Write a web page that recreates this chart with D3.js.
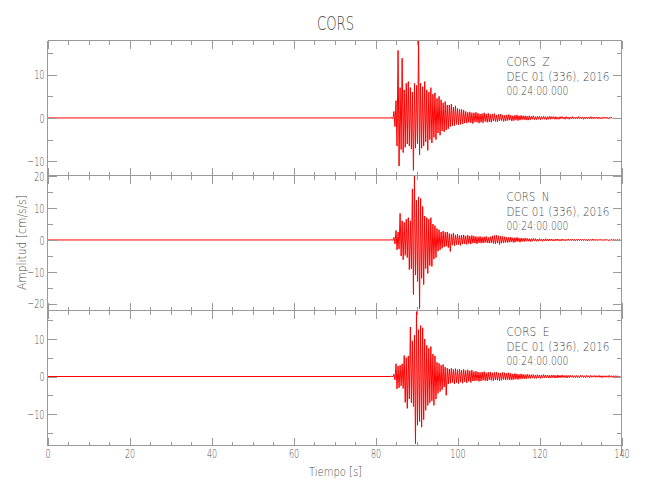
<!DOCTYPE html>
<html><head><meta charset="utf-8">
<script src="https://cdn.jsdelivr.net/npm/d3@7"></script>
<style>
body{margin:0;background:#fff}
svg text{font-family:'DejaVu Sans',sans-serif;fill:#4a4a4a;font-weight:200}
</style></head><body><svg id="c" width="650" height="500"></svg>
<script>
const station = "CORS";
const channels = ["Z", "N", "E"];
const dateLine = "DEC 01 (336), 2016";
const timeLine = "00:24:00.000";
const xTitle = "Tiempo [s]";
const yTitle = "Amplitud [cm/s/s]";
const xTickValues = [0, 20, 40, 60, 80, 100, 120, 140];
const yTickValues = [[-10, 0, 10], [-20, -10, 0, 10, 20], [-10, 0, 10]];
const yRanges = [[-13.3, 17.9], [-22.1, 20.2], [-18.4, 17.6]];
const sampleStart = 84, sampleStep = 0.25;

const ampZ = [
0.1,-0.2,1.5,-2.0, 4.0,-6.5,15.6,-11.1,
7.0,-7.3,13.8,-8.0, 6.5,-6.8,8.0,-6.0,
8.4,-6.5,7.0,-7.2, 6.0,-12.1,8.0,-7.0,
7.5,-6.0,17.9,-8.5, 8.0,-7.0,7.2,-6.5,
8.4,-5.5,6.5,-7.5, 6.0,-5.0,7.0,-5.8,
5.5,-4.5,5.8,-5.0, 4.5,-3.5,5.0,-4.0,
4.2,-3.0,3.5,-3.2, 3.8,-2.8,3.0,-2.5,
3.0,-2.0,3.2,-1.8, 2.5,-1.8,2.8,-1.5,
2.2,-1.6,2.0,-1.5, 2.0,-1.4,1.8,-1.2,
1.5,-1.2,1.3,-1.0, 1.4,-1.1,1.2,-1.3,
1.2,-0.9,1.3,-1.0, 1.1,-1.2,0.9,-1.0,
1.0,-1.1,1.2,-0.8, 0.9,-1.0,1.1,-0.9,
0.8,-1.0,0.9,-0.7, 1.0,-0.8,0.7,-0.9,
0.8,-0.7,0.9,-0.6, 0.7,-0.8,0.6,-0.7,
0.7,-0.6,0.8,-0.5, 0.6,-0.7,0.5,-0.6,
0.6,-0.5,0.7,-0.6, 0.5,-0.5,0.6,-0.4,
0.5,-0.4,0.5,-0.5, 0.4,-0.5,0.5,-0.4,
0.4,-0.3,0.5,-0.4, 0.3,-0.4,0.4,-0.3,
0.4,-0.4,0.3,-0.3, 0.4,-0.3,0.3,-0.4,
0.3,-0.3,0.4,-0.3, 0.3,-0.2,0.3,-0.3,
0.3,-0.3,0.2,-0.3, 0.3,-0.2,0.3,-0.2,
0.2,-0.3,0.3,-0.2, 0.2,-0.3,0.2,-0.2,
0.3,-0.2,0.2,-0.2, 0.2,-0.2,0.3,-0.2,
0.2,-0.2,0.2,-0.3, 0.2,-0.2,0.2,-0.2,
0.2,-0.2,0.3,-0.2, 0.2,-0.2,0.2,-0.1,
0.2,-0.2,0.2,-0.2, 0.1,-0.2,0.2,-0.1,
0.2,-0.1,0.2,-0.2, 0.1,-0.1,0.2,-0.1
];

const ampN = [
0.1,-0.1,0.8,-1.2, 3.0,-3.1,2.5,-2.8,
8.3,-5.0,6.0,-6.2, 5.5,-4.8,6.5,-5.5,
7.0,-9.3,6.0,-9.0, 16.0,-17.1,20.0,-11.0,
12.5,-13.0,13.5,-21.5, 13.0,-12.0,10.5,-14.0,
7.5,-9.0,7.0,-10.5, 6.5,-8.0,7.0,-8.3,
5.0,-6.0,4.5,-5.5, 3.6,-3.5,3.2,-3.1,
2.5,-2.6,2.8,-2.2, 2.4,-2.0,2.5,-2.4,
2.0,-3.6,1.8,-1.6, 2.2,-1.8,1.6,-1.5,
1.8,-1.5,1.4,-1.7, 1.5,-1.3,1.6,-1.2,
1.3,-1.4,1.5,-1.1, 1.2,-1.3,1.4,-1.0,
1.2,-1.0,1.1,-1.2, 1.0,-0.9,1.1,-1.0,
0.9,-1.0,1.0,-0.8, 1.1,-0.9,0.8,-1.0,
1.0,-0.9,1.3,-1.1, 1.4,-1.2,1.5,-1.0,
1.3,-1.4,1.2,-1.0, 1.1,-0.9,1.0,-0.8,
0.9,-0.8,0.8,-0.7, 0.9,-0.6,0.7,-0.8,
0.7,-0.6,0.8,-0.5, 0.6,-0.7,0.6,-0.5,
0.5,-0.5,0.6,-0.4, 0.5,-0.4,0.4,-0.5,
0.4,-0.4,0.5,-0.3, 0.4,-0.4,0.3,-0.4,
0.4,-0.3,0.3,-0.4, 0.3,-0.3,0.4,-0.3,
0.3,-0.3,0.3,-0.2, 0.3,-0.3,0.2,-0.3,
0.3,-0.2,0.3,-0.3, 0.2,-0.3,0.3,-0.2,
0.2,-0.3,0.2,-0.2, 0.3,-0.2,0.2,-0.2,
0.3,-0.2,0.2,-0.3, 0.2,-0.2,0.3,-0.2,
0.2,-0.2,0.3,-0.2, 0.2,-0.2,0.2,-0.3,
0.2,-0.2,0.2,-0.2, 0.3,-0.2,0.2,-0.2,
0.2,-0.2,0.2,-0.1, 0.2,-0.2,0.2,-0.2,
0.2,-0.1,0.2,-0.2, 0.1,-0.2,0.2,-0.1,
0.2,-0.1,0.1,-0.2, 0.2,-0.1,0.1,-0.1,
0.0
];

const ampE = [
0.1,-0.1,0.6,-0.9, 3.4,-3.3,2.8,-3.0,
3.0,-2.5,3.4,-3.2, 5.6,-6.9,5.0,-8.5,
5.5,-6.0,13.2,-7.0, 9.5,-8.0,11.0,-17.9,
17.3,-13.0,12.5,-12.0, 13.6,-13.5,13.0,-11.5,
10.0,-9.0,8.3,-7.7, 7.5,-7.0,8.0,-6.5,
6.0,-7.7,5.5,-6.0, 3.8,-4.5,3.5,-4.0,
3.0,-3.5,3.2,-2.8, 2.5,-5.0,2.2,-2.0,
2.0,-1.8,2.2,-1.6, 1.9,-2.0,2.1,-1.7,
1.8,-1.9,2.0,-1.5, 1.7,-1.8,1.9,-1.4,
1.6,-1.7,1.8,-1.3, 1.5,-1.6,1.7,-1.2,
1.3,-1.2,1.4,-1.1, 1.2,-1.3,1.1,-1.2,
1.2,-1.0,1.3,-1.1, 1.0,-1.2,1.1,-0.9,
1.2,-1.0,1.0,-1.1, 1.1,-0.9,1.2,-1.0,
1.0,-1.1,0.9,-1.0, 1.1,-0.8,1.0,-0.9,
0.9,-0.8,1.0,-0.9, 0.8,-0.9,0.7,-0.8,
0.8,-0.7,0.7,-0.8, 0.6,-0.7,0.7,-0.6,
0.6,-0.6,0.5,-0.6, 0.6,-0.5,0.5,-0.5,
0.5,-0.4,0.5,-0.5, 0.4,-0.5,0.5,-0.4,
0.4,-0.5,0.4,-0.4, 0.5,-0.4,0.4,-0.3,
0.4,-0.4,0.3,-0.4, 0.4,-0.3,0.4,-0.4,
0.3,-0.4,0.4,-0.3, 0.3,-0.3,0.4,-0.3,
0.3,-0.3,0.3,-0.4, 0.3,-0.3,0.3,-0.2,
0.3,-0.3,0.2,-0.3, 0.3,-0.3,0.2,-0.3,
0.3,-0.2,0.3,-0.3, 0.2,-0.3,0.3,-0.2,
0.2,-0.3,0.3,-0.2, 0.2,-0.2,0.3,-0.2,
0.2,-0.2,0.3,-0.2, 0.2,-0.3,0.2,-0.2,
0.2,-0.2,0.2,-0.2, 0.3,-0.2,0.2,-0.2,
0.2,-0.2,0.2,-0.1, 0.2,-0.2,0.1,-0.2,
0.0
];
const traces = [ampZ, ampN, ampE];

// ---------- layout ----------
const svg = d3.select("#c");
const L = 47.5, R = 621.5;
const tops = [40.5, 175.5, 310.5];
const H = 135;
const axisColor = "#9a9a9a";
const textColor = "#4a4a4a";
const traceColor = "#ff0000";
const tickScale = 0.62;

const x = d3.scaleLinear().domain([0, 140]).range([L, R]);

function squeeze(sel, sx) {
  sel.selectAll("text").each(function () {
    const t = d3.select(this);
    const tx = +t.attr("x") || 0;
    t.attr("x", 0).attr("transform", `translate(${tx},0) scale(${sx},1)`);
  });
}
function styleAxis(sel) {
  sel.select(".domain").remove();
  sel.selectAll("line").attr("stroke", axisColor).attr("shape-rendering", "crispEdges");
  sel.selectAll("text").attr("fill", textColor).style("font-size", "13px").attr("font-family", null);
}

traces.forEach((amp, i) => {
  const top = tops[i], bottom = top + H;
  const y = d3.scaleLinear().domain(yRanges[i]).range([bottom, top]);
  const g = svg.append("g");
  const minor5 = d3.range(Math.ceil(yRanges[i][0] / 5) * 5, yRanges[i][1] + 0.001, 5);
  const minorX = d3.range(0, 140.001, 5);

  // trace: quiet pre-event line, then the recorded samples
  const pts = [[0, 0], [sampleStart - sampleStep, 0]]
    .concat(amp.map((v, k) => [sampleStart + k * sampleStep, v]));
  g.append("path")
    .attr("d", d3.line().x(d => x(d[0])).y(d => y(d[1]))(pts))
    .attr("fill", "none").attr("stroke", traceColor).attr("stroke-width", 1);

  // frame
  const fr = g.append("g");
  fr.append("line").attr("x1", L).attr("x2", R).attr("y1", top).attr("y2", top);
  fr.append("line").attr("x1", L).attr("x2", R).attr("y1", bottom).attr("y2", bottom);
  fr.append("line").attr("x1", L).attr("x2", L).attr("y1", top).attr("y2", bottom);
  fr.append("line").attr("x1", R).attr("x2", R).attr("y1", top).attr("y2", bottom + 9);
  fr.selectAll("line").attr("stroke", axisColor).attr("shape-rendering", "crispEdges");

  // x axes (bottom & top) with inward ticks
  const xb = g.append("g").attr("transform", `translate(0,${bottom})`)
    .call(d3.axisBottom(x).tickValues(xTickValues).tickSizeInner(-8).tickSizeOuter(0)
      .tickPadding(3).tickFormat(i === 2 ? d3.format("d") : ""));
  styleAxis(xb); squeeze(xb, tickScale);
  const xbm = g.append("g").attr("transform", `translate(0,${bottom})`)
    .call(d3.axisBottom(x).tickValues(minorX).tickSizeInner(-4).tickSizeOuter(0).tickFormat(""));
  styleAxis(xbm);
  const xt = g.append("g").attr("transform", `translate(0,${top})`)
    .call(d3.axisTop(x).tickValues(xTickValues).tickSizeInner(-8).tickSizeOuter(0).tickFormat(""));
  styleAxis(xt);
  const xtm = g.append("g").attr("transform", `translate(0,${top})`)
    .call(d3.axisTop(x).tickValues(minorX).tickSizeInner(-4).tickSizeOuter(0).tickFormat(""));
  styleAxis(xtm);

  // y axes (left labelled, right plain)
  const yl = g.append("g").attr("transform", `translate(${L},0)`)
    .call(d3.axisLeft(y).tickValues(yTickValues[i]).tickSizeInner(-9).tickSizeOuter(0)
      .tickPadding(3).tickFormat(d => (d < 0 ? "\u2212" : "") + Math.abs(d)));
  styleAxis(yl); squeeze(yl, tickScale);
  const ylm = g.append("g").attr("transform", `translate(${L},0)`)
    .call(d3.axisLeft(y).tickValues(minor5).tickSizeInner(-5).tickSizeOuter(0).tickFormat(""));
  styleAxis(ylm);
  const yr = g.append("g").attr("transform", `translate(${R},0)`)
    .call(d3.axisRight(y).tickValues(yTickValues[i]).tickSizeInner(-9).tickSizeOuter(0).tickFormat(""));
  styleAxis(yr);
  const yrm = g.append("g").attr("transform", `translate(${R},0)`)
    .call(d3.axisRight(y).tickValues(minor5).tickSizeInner(-5).tickSizeOuter(0).tickFormat(""));
  styleAxis(yrm);

  // header text
  const info = [[station + "\u00a0\u00a0" + channels[i], 43], [dateLine, 103], [timeLine, 62]];
  const offs = [25.5, 40.5, 55];
  info.forEach((d, k) => {
    g.append("text").attr("x", 506.5).attr("y", top + offs[k] - 0.5)
      .attr("textLength", d[1]).attr("lengthAdjust", "spacingAndGlyphs")
      .style("font-size", "13px").text(d[0]);
  });
});

// title
svg.append("text").attr("x", 335.5).attr("y", 30).attr("text-anchor", "middle")
  .attr("textLength", 37).attr("lengthAdjust", "spacingAndGlyphs")
  .style("font-size", "20px").text(station);
// x title
svg.append("text").attr("x", 335.5).attr("y", 476).attr("text-anchor", "middle")
  .attr("textLength", 53).attr("lengthAdjust", "spacingAndGlyphs")
  .style("font-size", "12px").text(xTitle);
// y title
svg.append("text").attr("transform", "translate(26,242.5) rotate(-90)").attr("text-anchor", "middle")
  .attr("textLength", 95).attr("lengthAdjust", "spacingAndGlyphs")
  .style("font-size", "12px").text(yTitle);
</script></body></html>
